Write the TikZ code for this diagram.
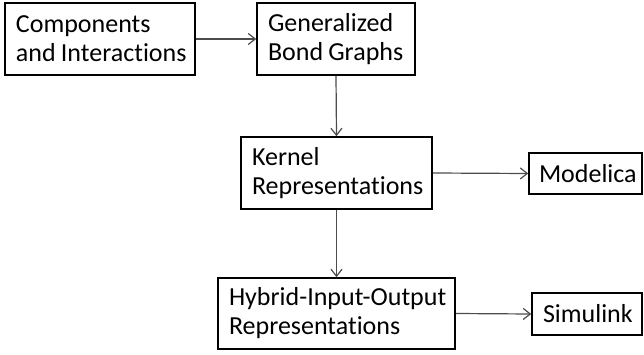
\documentclass[tikz,border=0pt]{standalone}
\usepackage{fontspec}
\setmainfont{Carlito}[Ligatures=NoCommon]
\usetikzlibrary{arrows.meta}
\newcommand{\wsp}{\kern0.2em\relax}
\begin{document}
\begin{tikzpicture}[x=1pt,y=1pt,
  box/.style={draw=black,line width=1.6pt,fill=white,inner xsep=11pt,inner ysep=0pt,
    align=left,font=\fontsize{26}{29}\selectfont,anchor=center},
  conn/.style={draw=black!70,line width=1.2pt,-{Straight Barb[length=7pt,width=11pt,line width=1.2pt]}}]
\useasboundingbox (0,0) rectangle (644,354);
% y = 354 - y_img
\node[box,minimum width=190pt,minimum height=72pt,text width=168pt] (comp) at (100,315) {\mbox{Components}\\\mbox{and\wsp Interactions}};
\node[box,minimum width=158pt,minimum height=72pt,text width=136pt] (bond) at (336,315) {\mbox{Generalized}\\\mbox{Bond\wsp Graphs}};
\node[box,minimum width=191pt,minimum height=72pt,text width=169pt] (kern) at (336.5,181) {\mbox{Kernel}\\\mbox{Representations}};
\node[box,minimum width=113pt,minimum height=41pt,text width=93pt,inner xsep=10pt] (mod) at (585.5,180.5) {\mbox{Modelica}};
\node[box,minimum width=237pt,minimum height=71pt,text width=215pt] (hio) at (336.5,40.5) {\mbox{Hybrid-Input-Output}\\\mbox{Representations}};
\node[box,minimum width=110pt,minimum height=42pt,text width=88pt] (sim) at (587,40) {\mbox{Simulink}};
\draw[conn] (comp.east) -- (bond.west);
\draw[conn] (bond.south) -- (kern.north);
\draw[conn] (kern.east) -- (mod.west);
\draw[conn] (kern.south) -- (hio.north);
\draw[conn] (hio.east) -- (sim.west);
\end{tikzpicture}
\end{document}
